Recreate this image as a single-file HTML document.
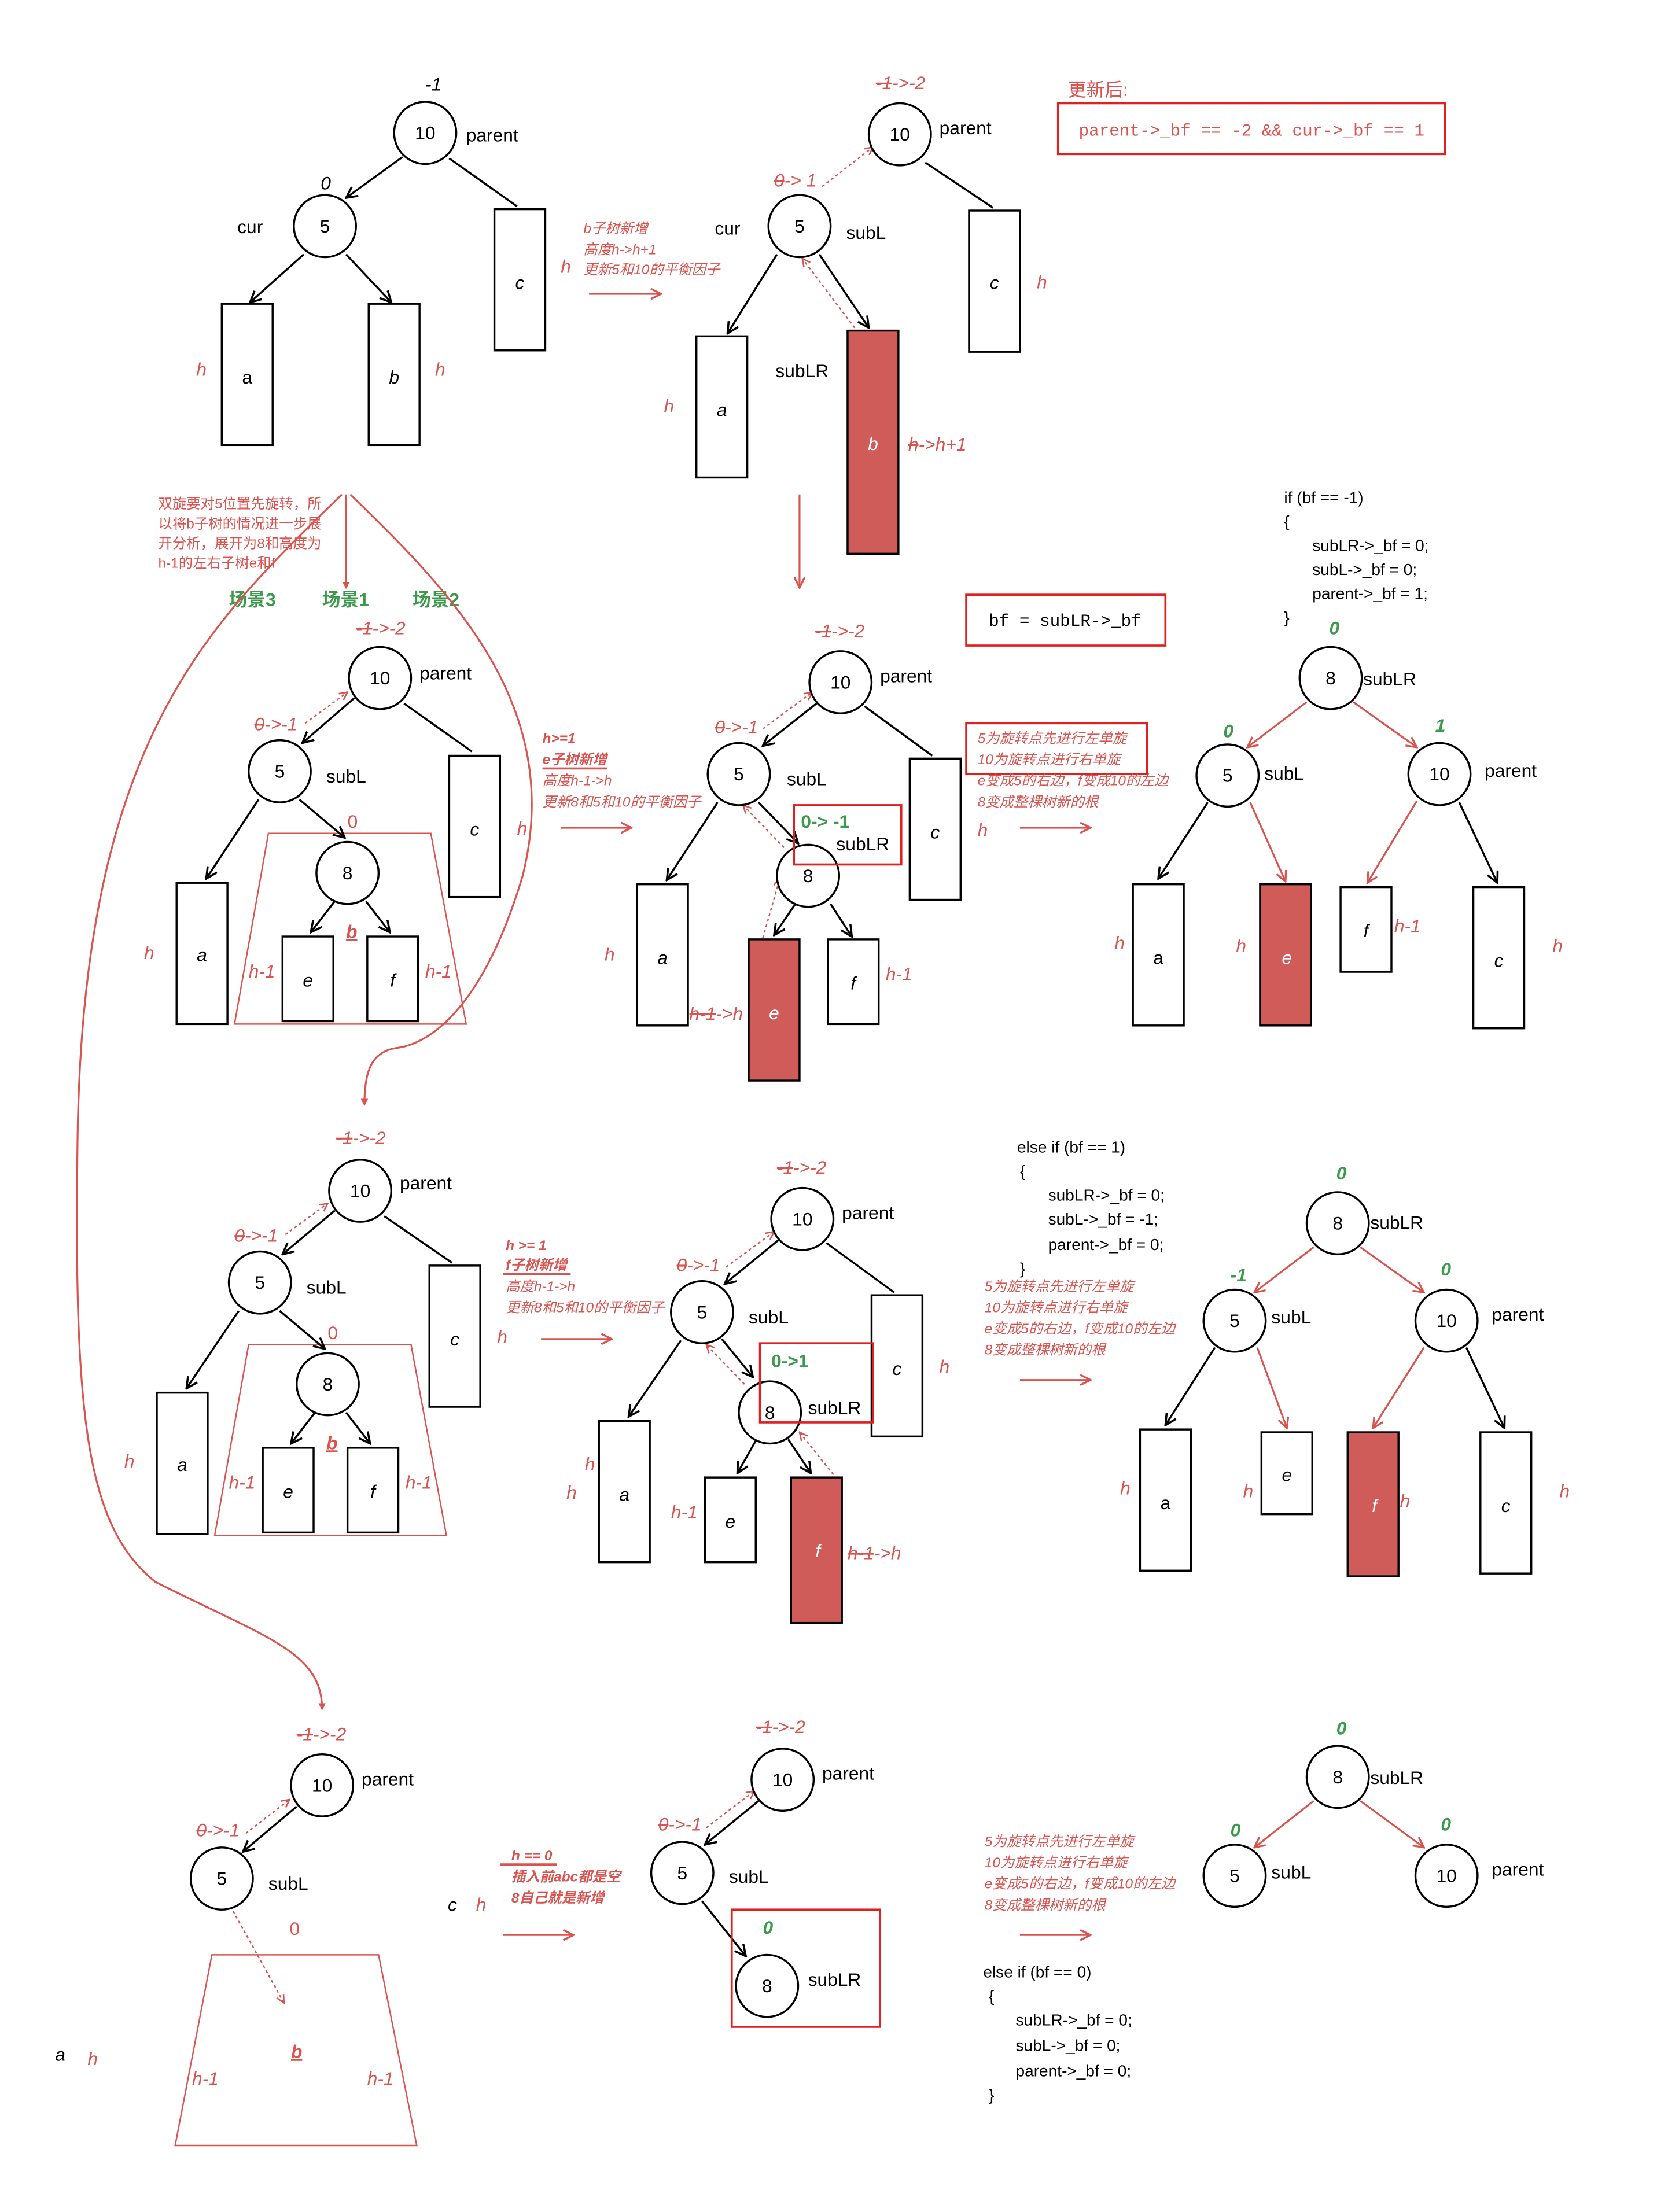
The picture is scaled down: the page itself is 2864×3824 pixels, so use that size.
<!DOCTYPE html>
<html><head><meta charset="utf-8"><style>
html,body{margin:0;padding:0;background:#fff}
svg{display:block}
text{font-family:"Liberation Sans","Noto Sans CJK SC",sans-serif}
.n{font-size:13px;text-anchor:middle;dominant-baseline:central}
.l{font-size:13px}
.r{fill:#d9534f}
.i{font-style:italic}
.g{fill:#3c9a4c;font-weight:bold;font-style:italic}
.s{font-size:10px;fill:#d9534f;font-style:italic}
.c{font-size:11.5px}
.m{font-family:"Liberation Mono",monospace;font-size:12px}
.ln{stroke:#000;stroke-width:1.4;fill:none}
.rl{stroke:#d9534f;stroke-width:1.3;fill:none}
.rd{stroke:#d9534f;stroke-width:1;fill:none;stroke-dasharray:2,2}
.bx{fill:#fff;stroke:#000;stroke-width:1.4}
.rb{fill:#d05c5a;stroke:#000;stroke-width:1.4}
.nd{fill:#fff;stroke:#000;stroke-width:1.4}
.st{text-decoration:line-through}
</style></head><body>
<svg width="2864" height="3824" viewBox="0 0 1173 1566" xmlns="http://www.w3.org/2000/svg">
<defs>
<marker id="a" viewBox="0 0 10 10" refX="9" refY="5" markerWidth="7" markerHeight="7" orient="auto"><path d="M1 1L9 5L1 9" fill="none" stroke="#000" stroke-width="1.5"/></marker>
<marker id="ar" viewBox="0 0 10 10" refX="9" refY="5" markerWidth="7" markerHeight="7" orient="auto"><path d="M1 1L9 5L1 9" fill="none" stroke="#d9534f" stroke-width="1.5"/></marker>
<marker id="ab" viewBox="0 0 10 10" refX="8" refY="5" markerWidth="4" markerHeight="4" orient="auto"><path d="M0 0L10 5L0 10z" fill="#d9534f"/></marker>
</defs>

<!-- Diagram 1 -->
<text x="301" y="64" class="l i">-1</text>
<line class="ln" x1="285" y1="111" x2="245" y2="140" marker-end="url(#a)"/>
<line class="ln" x1="318" y1="112" x2="366" y2="146"/>
<line class="ln" x1="215" y1="180" x2="177" y2="214" marker-end="url(#a)"/>
<line class="ln" x1="245" y1="180" x2="277" y2="214" marker-end="url(#a)"/>
<circle class="nd" cx="301" cy="94" r="22"/><text class="n" x="301" y="94">10</text>
<text x="330" y="100" class="l">parent</text>
<text x="227" y="134" class="l i">0</text>
<circle class="nd" cx="230" cy="160" r="22"/><text class="n" x="230" y="160">5</text>
<text x="168" y="165" class="l">cur</text>
<rect class="bx" x="350" y="148" width="36" height="100"/><text class="n i" x="368" y="200">c</text>
<text x="397" y="193" class="l r i">h</text>
<rect class="bx" x="157" y="215" width="36" height="100"/><text class="n" x="175" y="267">a</text>
<text x="139" y="266" class="l r i">h</text>
<rect class="bx" x="261" y="215" width="36" height="100"/><text class="n i" x="279" y="267">b</text>
<text x="308" y="266" class="l r i">h</text>
<line class="rl" x1="417" y1="208" x2="468" y2="208" stroke-width="2" marker-end="url(#ar)"/>
<text x="413" y="165" class="s">b子树新增</text>
<text x="413" y="180" class="s">高度h-&gt;h+1</text>
<text x="413" y="194" class="s">更新5和10的平衡因子</text>

<!-- Diagram 2 -->
<text x="620" y="63" class="l r i"><tspan class="st">-1</tspan>-&gt;-2</text>
<line class="ln" x1="655" y1="115" x2="703" y2="147"/>
<line class="ln" x1="550" y1="180" x2="515" y2="236" marker-end="url(#a)"/>
<line class="ln" x1="580" y1="180" x2="615" y2="232" marker-end="url(#a)"/>
<line class="rd" x1="582" y1="132" x2="618" y2="104" marker-end="url(#ar)"/>
<line class="rd" x1="605" y1="232" x2="568" y2="183" marker-end="url(#ar)"/>
<circle class="nd" cx="637" cy="95" r="22"/><text class="n" x="637" y="95">10</text>
<text x="665" y="95" class="l">parent</text>
<text x="548" y="132" class="l r i"><tspan class="st">0</tspan>-&gt; 1</text>
<circle class="nd" cx="566" cy="160" r="22"/><text class="n" x="566" y="160">5</text>
<text x="506" y="166" class="l">cur</text>
<text x="599" y="169" class="l">subL</text>
<rect class="bx" x="686" y="149" width="36" height="100"/><text class="n i" x="704" y="200">c</text>
<text x="734" y="204" class="l r i">h</text>
<rect class="bx" x="493" y="238" width="36" height="100"/><text class="n i" x="511" y="290">a</text>
<text x="470" y="292" class="l r i">h</text>
<rect class="rb" x="600" y="234" width="36" height="158"/><text class="n i" x="618" y="314" fill="#fff">b</text>
<text x="643" y="319" class="l r i"><tspan class="st">h</tspan>-&gt;h+1</text>
<text x="549" y="267" class="l">subLR</text>
<line class="rl" x1="566" y1="350" x2="566" y2="416" stroke-width="2" marker-end="url(#ar)"/>

<text x="756" y="68" class="l r">更新后:</text>
<rect x="749" y="73" width="274" height="36" fill="none" stroke="#e02020" stroke-width="1.5"/>
<text x="886" y="96" class="m r" text-anchor="middle">parent-&gt;_bf == -2 &amp;&amp; cur-&gt;_bf == 1</text>

<!-- left annotation -->
<text x="112" y="360" class="s" style="font-style:normal">双旋要对5位置先旋转，所</text>
<text x="112" y="374" class="s" style="font-style:normal">以将b子树的情况进一步展</text>
<text x="112" y="388" class="s" style="font-style:normal">开分析，展开为8和高度为</text>
<text x="112" y="402" class="s" style="font-style:normal">h-1的左右子树e和f</text>
<text x="162" y="429" class="l g" style="font-style:normal">场景3</text>
<text x="228" y="429" class="l g" style="font-style:normal">场景1</text>
<text x="292" y="429" class="l g" style="font-style:normal">场景2</text>
<line class="rl" x1="245" y1="350" x2="245" y2="416" stroke-width="2" marker-end="url(#ab)"/>
<path class="rl" stroke-width="2" d="M248 350 C 320 420, 400 500, 370 620 C 340 720, 300 740, 280 742 C 262 745, 258 760, 258 782" marker-end="url(#ab)"/>
<path class="rl" stroke-width="2" d="M242 350 C 150 440, 60 520, 55 800 C 52 1000, 60 1080, 110 1120 C 190 1160, 228 1170, 228 1210" marker-end="url(#ab)"/>

<!-- Diagram 3 scene1 -->
<text x="252" y="449" class="l r i"><tspan class="st">-1</tspan>-&gt;-2</text>
<polygon points="190,590 305,590 330,725 166,725" fill="none" stroke="#d9534f" stroke-width="1"/>
<line class="ln" x1="286" y1="498" x2="334" y2="532"/>
<line class="ln" x1="251" y1="494" x2="214" y2="526" marker-end="url(#a)"/>
<line class="ln" x1="183" y1="566" x2="146" y2="622" marker-end="url(#a)"/>
<line class="ln" x1="212" y1="566" x2="244" y2="593" marker-end="url(#a)"/>
<line class="ln" x1="237" y1="638" x2="220" y2="660" marker-end="url(#a)"/>
<line class="ln" x1="259" y1="638" x2="276" y2="660" marker-end="url(#a)"/>
<line class="rd" x1="216" y1="512" x2="246" y2="490" marker-end="url(#ar)"/>
<circle class="nd" cx="269" cy="480" r="22"/><text class="n" x="269" y="480">10</text>
<text x="297" y="481" class="l">parent</text>
<text x="180" y="517" class="l r i"><tspan class="st">0</tspan>-&gt;-1</text>
<circle class="nd" cx="198" cy="546" r="22"/><text class="n" x="198" y="546">5</text>
<text x="231" y="554" class="l">subL</text>
<rect class="bx" x="318" y="535" width="36" height="100"/><text class="n i" x="336" y="587">c</text>
<text x="366" y="591" class="l r i">h</text>
<rect class="bx" x="125" y="625" width="36" height="100"/><text class="n i" x="143" y="676">a</text>
<text x="102" y="679" class="l r i">h</text>
<text x="246" y="586" class="l r">0</text>
<circle class="nd" cx="246" cy="618" r="22"/><text class="n" x="246" y="618">8</text>
<rect class="bx" x="200" y="663" width="36" height="60"/><text class="n i" x="218" y="694">e</text>
<rect class="bx" x="260" y="663" width="36" height="60"/><text class="n i" x="278" y="694">f</text>
<text x="245" y="664" class="l r i" style="font-weight:bold;text-decoration:underline">b</text>
<text x="176" y="692" class="l r i">h-1</text>
<text x="301" y="692" class="l r i">h-1</text>
<line class="rl" x1="397" y1="586" x2="447" y2="586" stroke-width="2" marker-end="url(#ar)"/>
<text x="384" y="526" class="s g">h&gt;=1</text>
<text x="384" y="541" class="s g">e子树新增</text>
<line x1="384" y1="544" x2="430" y2="544" stroke="#d9534f" stroke-width="1.5"/>
<text x="384" y="556" class="s">高度h-1-&gt;h</text>
<text x="384" y="571" class="s">更新8和5和10的平衡因子</text>

<!-- Diagram 4 -->
<text x="577" y="451" class="l r i"><tspan class="st">-1</tspan>-&gt;-2</text>
<line class="ln" x1="612" y1="500" x2="660" y2="535"/>
<line class="ln" x1="578" y1="498" x2="540" y2="528" marker-end="url(#a)"/>
<line class="ln" x1="508" y1="568" x2="472" y2="623" marker-end="url(#a)"/>
<line class="ln" x1="537" y1="568" x2="565" y2="597" marker-end="url(#a)"/>
<line class="ln" x1="563" y1="640" x2="548" y2="662" marker-end="url(#a)"/>
<line class="ln" x1="588" y1="640" x2="603" y2="663" marker-end="url(#a)"/>
<line class="rd" x1="540" y1="516" x2="575" y2="490" marker-end="url(#ar)"/>
<line class="rd" x1="555" y1="600" x2="526" y2="570" marker-end="url(#ar)"/>
<line class="rd" x1="540" y1="664" x2="552" y2="622" marker-end="url(#ar)"/>
<circle class="nd" cx="595" cy="483" r="22"/><text class="n" x="595" y="483">10</text>
<text x="623" y="483" class="l">parent</text>
<text x="506" y="519" class="l r i"><tspan class="st">0</tspan>-&gt;-1</text>
<circle class="nd" cx="523" cy="548" r="22"/><text class="n" x="523" y="548">5</text>
<text x="557" y="556" class="l">subL</text>
<rect class="bx" x="644" y="537" width="36" height="100"/><text class="n i" x="662" y="589">c</text>
<text x="692" y="592" class="l r i">h</text>
<rect class="bx" x="451" y="626" width="36" height="100"/><text class="n i" x="469" y="678">a</text>
<text x="428" y="680" class="l r i">h</text>
<circle class="nd" cx="572" cy="620" r="22"/><text class="n" x="572" y="620">8</text>
<rect x="562" y="570" width="76" height="42" fill="none" stroke="#e02020" stroke-width="1.5"/>
<text x="567" y="586" class="l g" style="font-style:normal">0-&gt; -1</text>
<text x="592" y="602" class="l">subLR</text>
<rect class="rb" x="530" y="665" width="36" height="100"/><text class="n i" x="548" y="717" fill="#fff">e</text>
<text x="488" y="722" class="l r i"><tspan class="st">h-1</tspan>-&gt;h</text>
<rect class="bx" x="586" y="665" width="36" height="60"/><text class="n i" x="604" y="696">f</text>
<text x="627" y="694" class="l r i">h-1</text>
<line class="rl" x1="722" y1="586" x2="772" y2="586" stroke-width="2" marker-end="url(#ar)"/>
<rect x="684" y="512" width="128" height="36" fill="none" stroke="#e02020" stroke-width="1.5"/>
<text x="692" y="526" class="s">5为旋转点先进行左单旋</text>
<text x="692" y="541" class="s">10为旋转点进行右单旋</text>
<text x="692" y="556" class="s">e变成5的右边，f变成10的左边</text>
<text x="692" y="571" class="s">8变成整棵树新的根</text>
<rect x="684" y="421" width="141" height="36" fill="none" stroke="#e02020" stroke-width="1.5"/>
<text x="754" y="443" class="m" text-anchor="middle">bf = subLR-&gt;_bf</text>

<!-- code 1 -->
<text x="909" y="356" class="c">if (bf == -1)</text>
<text x="909" y="373" class="c">{</text>
<text x="929" y="390" class="c">subLR-&gt;_bf = 0;</text>
<text x="929" y="407" class="c">subL-&gt;_bf = 0;</text>
<text x="929" y="424" class="c">parent-&gt;_bf = 1;</text>
<text x="909" y="441" class="c">}</text>

<!-- Diagram 5 -->
<line class="rl" x1="925" y1="497" x2="883" y2="529" marker-end="url(#ar)"/>
<line class="rl" x1="958" y1="497" x2="1003" y2="529" marker-end="url(#ar)"/>
<line class="ln" x1="855" y1="568" x2="820" y2="622" marker-end="url(#a)"/>
<line class="rl" x1="885" y1="568" x2="910" y2="624" marker-end="url(#ar)"/>
<line class="rl" x1="1003" y1="567" x2="968" y2="625" marker-end="url(#ar)"/>
<line class="ln" x1="1033" y1="568" x2="1060" y2="625" marker-end="url(#a)"/>
<text x="941" y="449" class="l g">0</text>
<circle class="nd" cx="942" cy="480" r="22"/><text class="n" x="942" y="480">8</text>
<text x="965" y="485" class="l">subLR</text>
<text x="866" y="522" class="l g">0</text>
<text x="1016" y="518" class="l g">1</text>
<circle class="nd" cx="869" cy="549" r="22"/><text class="n" x="869" y="549">5</text>
<text x="895" y="552" class="l">subL</text>
<circle class="nd" cx="1019" cy="548" r="22"/><text class="n" x="1019" y="548">10</text>
<text x="1051" y="550" class="l">parent</text>
<rect class="bx" x="802" y="626" width="36" height="100"/><text class="n" x="820" y="678">a</text>
<text x="789" y="672" class="l r i">h</text>
<rect class="rb" x="892" y="626" width="36" height="100"/><text class="n i" x="911" y="678" fill="#fff">e</text>
<text x="875" y="674" class="l r i">h</text>
<rect class="bx" x="949" y="628" width="36" height="60"/><text class="n i" x="967" y="659">f</text>
<text x="987" y="660" class="l r i">h-1</text>
<rect class="bx" x="1043" y="628" width="36" height="100"/><text class="n i" x="1061" y="680">c</text>
<text x="1099" y="674" class="l r i">h</text>

<!-- Scene 2 -->
<text x="238" y="810" class="l r i"><tspan class="st">-1</tspan>-&gt;-2</text>
<polygon points="176,952 291,952 316,1087 152,1087" fill="none" stroke="#d9534f" stroke-width="1"/>
<line class="ln" x1="272" y1="861" x2="320" y2="894"/>
<line class="ln" x1="237" y1="857" x2="200" y2="888" marker-end="url(#a)"/>
<line class="ln" x1="169" y1="928" x2="132" y2="983" marker-end="url(#a)"/>
<line class="ln" x1="198" y1="928" x2="230" y2="955" marker-end="url(#a)"/>
<line class="ln" x1="223" y1="1000" x2="206" y2="1022" marker-end="url(#a)"/>
<line class="ln" x1="245" y1="1000" x2="262" y2="1022" marker-end="url(#a)"/>
<line class="rd" x1="202" y1="874" x2="232" y2="852" marker-end="url(#ar)"/>
<circle class="nd" cx="255" cy="843" r="22"/><text class="n" x="255" y="843">10</text>
<text x="283" y="842" class="l">parent</text>
<text x="166" y="879" class="l r i"><tspan class="st">0</tspan>-&gt;-1</text>
<circle class="nd" cx="184" cy="908" r="22"/><text class="n" x="184" y="908">5</text>
<text x="217" y="916" class="l">subL</text>
<rect class="bx" x="304" y="896" width="36" height="100"/><text class="n i" x="322" y="948">c</text>
<text x="352" y="951" class="l r i">h</text>
<rect class="bx" x="111" y="986" width="36" height="100"/><text class="n i" x="129" y="1037">a</text>
<text x="88" y="1039" class="l r i">h</text>
<text x="232" y="948" class="l r">0</text>
<circle class="nd" cx="232" cy="980" r="22"/><text class="n" x="232" y="980">8</text>
<rect class="bx" x="186" y="1025" width="36" height="60"/><text class="n i" x="204" y="1056">e</text>
<rect class="bx" x="246" y="1025" width="36" height="60"/><text class="n i" x="264" y="1056">f</text>
<text x="231" y="1026" class="l r i" style="font-weight:bold;text-decoration:underline">b</text>
<text x="162" y="1054" class="l r i">h-1</text>
<text x="287" y="1054" class="l r i">h-1</text>
<line class="rl" x1="383" y1="948" x2="433" y2="948" stroke-width="2" marker-end="url(#ar)"/>
<text x="358" y="885" class="s g">h &gt;= 1</text>
<text x="358" y="899" class="s g">f子树新增</text>
<line x1="356" y1="902" x2="404" y2="902" stroke="#d9534f" stroke-width="1.5"/>
<text x="358" y="914" class="s">高度h-1-&gt;h</text>
<text x="358" y="929" class="s">更新8和5和10的平衡因子</text>

<!-- Diagram 6 -->
<text x="550" y="831" class="l r i"><tspan class="st">-1</tspan>-&gt;-2</text>
<line class="ln" x1="585" y1="880" x2="633" y2="915"/>
<line class="ln" x1="551" y1="878" x2="513" y2="909" marker-end="url(#a)"/>
<line class="ln" x1="482" y1="949" x2="445" y2="1003" marker-end="url(#a)"/>
<line class="ln" x1="511" y1="948" x2="533" y2="975" marker-end="url(#a)"/>
<line class="ln" x1="535" y1="1020" x2="522" y2="1043" marker-end="url(#a)"/>
<line class="ln" x1="558" y1="1019" x2="574" y2="1043" marker-end="url(#a)"/>
<line class="rd" x1="514" y1="897" x2="548" y2="872" marker-end="url(#ar)"/>
<line class="rd" x1="527" y1="980" x2="500" y2="952" marker-end="url(#ar)"/>
<line class="rd" x1="590" y1="1044" x2="566" y2="1014" marker-end="url(#ar)"/>
<circle class="nd" cx="568" cy="863" r="22"/><text class="n" x="568" y="863">10</text>
<text x="596" y="863" class="l">parent</text>
<text x="479" y="900" class="l r i"><tspan class="st">0</tspan>-&gt;-1</text>
<circle class="nd" cx="497" cy="929" r="22"/><text class="n" x="497" y="929">5</text>
<text x="530" y="937" class="l">subL</text>
<rect class="bx" x="617" y="917" width="36" height="100"/><text class="n i" x="635" y="969">c</text>
<text x="665" y="972" class="l r i">h</text>
<rect class="bx" x="424" y="1006" width="36" height="100"/><text class="n i" x="442" y="1058">a</text>
<text x="414" y="1041" class="l r i">h</text>
<text x="401" y="1061" class="l r i">h</text>
<circle class="nd" cx="545" cy="1000" r="22"/><text class="n" x="545" y="1000">8</text>
<rect x="538" y="951" width="80" height="56" fill="none" stroke="#e02020" stroke-width="1.5"/>
<text x="546" y="968" class="l g" style="font-style:normal">0-&gt;1</text>
<text x="572" y="1001" class="l">subLR</text>
<rect class="bx" x="499" y="1046" width="36" height="60"/><text class="n i" x="517" y="1077">e</text>
<text x="475" y="1075" class="l r i">h-1</text>
<rect class="rb" x="560" y="1046" width="36" height="103"/><text class="n i" x="579" y="1098" fill="#fff">f</text>
<text x="600" y="1104" class="l r i"><tspan class="st">h-1</tspan>-&gt;h</text>
<text x="720" y="816" class="c">else if (bf == 1)</text>
<text x="722" y="833" class="c">{</text>
<text x="742" y="850" class="c">subLR-&gt;_bf = 0;</text>
<text x="742" y="867" class="c">subL-&gt;_bf = -1;</text>
<text x="742" y="885" class="c">parent-&gt;_bf = 0;</text>
<text x="722" y="902" class="c">}</text>
<text x="697" y="914" class="s">5为旋转点先进行左单旋</text>
<text x="697" y="929" class="s">10为旋转点进行右单旋</text>
<text x="697" y="944" class="s">e变成5的右边，f变成10的左边</text>
<text x="697" y="959" class="s">8变成整棵树新的根</text>
<line class="rl" x1="722" y1="977" x2="772" y2="977" stroke-width="2" marker-end="url(#ar)"/>

<!-- Diagram 7 -->
<line class="rl" x1="930" y1="883" x2="888" y2="915" marker-end="url(#ar)"/>
<line class="rl" x1="963" y1="883" x2="1008" y2="915" marker-end="url(#ar)"/>
<line class="ln" x1="860" y1="954" x2="825" y2="1009" marker-end="url(#a)"/>
<line class="rl" x1="890" y1="954" x2="911" y2="1011" marker-end="url(#ar)"/>
<line class="rl" x1="1008" y1="954" x2="972" y2="1011" marker-end="url(#ar)"/>
<line class="ln" x1="1038" y1="954" x2="1065" y2="1011" marker-end="url(#a)"/>
<text x="946" y="835" class="l g">0</text>
<circle class="nd" cx="947" cy="866" r="22"/><text class="n" x="947" y="866">8</text>
<text x="970" y="870" class="l">subLR</text>
<text x="871" y="907" class="l g">-1</text>
<text x="1020" y="903" class="l g">0</text>
<circle class="nd" cx="874" cy="935" r="22"/><text class="n" x="874" y="935">5</text>
<text x="900" y="937" class="l">subL</text>
<circle class="nd" cx="1024" cy="935" r="22"/><text class="n" x="1024" y="935">10</text>
<text x="1056" y="935" class="l">parent</text>
<rect class="bx" x="807" y="1012" width="36" height="100"/><text class="n" x="825" y="1064">a</text>
<text x="793" y="1058" class="l r i">h</text>
<rect class="bx" x="893" y="1014" width="36" height="58"/><text class="n i" x="911" y="1044">e</text>
<text x="880" y="1060" class="l r i">h</text>
<rect class="rb" x="954" y="1014" width="36" height="102"/><text class="n i" x="973" y="1066" fill="#fff">f</text>
<text x="991" y="1067" class="l r i">h</text>
<rect class="bx" x="1048" y="1014" width="36" height="100"/><text class="n i" x="1066" y="1066">c</text>
<text x="1104" y="1060" class="l r i">h</text>

<!-- Scene 3 -->
<text x="210" y="1232" class="l r i"><tspan class="st">-1</tspan>-&gt;-2</text>
<polygon points="150,1384 268,1384 295,1519 124,1519" fill="none" stroke="#d9534f" stroke-width="1"/>
<line class="ln" x1="210" y1="1279" x2="172" y2="1311" marker-end="url(#a)"/>
<line class="rd" x1="165" y1="1353" x2="201" y2="1418" marker-end="url(#ar)"/>
<line class="rd" x1="174" y1="1298" x2="205" y2="1274" marker-end="url(#ar)"/>
<circle class="nd" cx="228" cy="1264" r="22"/><text class="n" x="228" y="1264">10</text>
<text x="256" y="1264" class="l">parent</text>
<text x="139" y="1300" class="l r i"><tspan class="st">0</tspan>-&gt;-1</text>
<circle class="nd" cx="157" cy="1330" r="22"/><text class="n" x="157" y="1330">5</text>
<text x="190" y="1338" class="l">subL</text>
<text x="205" y="1370" class="l r">0</text>
<text x="206" y="1457" class="l r i" style="font-weight:bold;text-decoration:underline">b</text>
<text x="136" y="1476" class="l r i">h-1</text>
<text x="260" y="1476" class="l r i">h-1</text>
<text x="39" y="1459" class="l i">a</text>
<text x="62" y="1462" class="l r i">h</text>
<text x="317" y="1353" class="l i">c</text>
<text x="337" y="1353" class="l r i">h</text>
<line class="rl" x1="356" y1="1370" x2="406" y2="1370" stroke-width="2" marker-end="url(#ar)"/>
<text x="362" y="1317" class="s g">h == 0</text>
<line x1="354" y1="1320" x2="394" y2="1320" stroke="#d9534f" stroke-width="1.5"/>
<text x="362" y="1332" class="s g">插入前abc都是空</text>
<text x="362" y="1347" class="s g">8自己就是新增</text>

<!-- Diagram 8 -->
<text x="535" y="1227" class="l r i"><tspan class="st">-1</tspan>-&gt;-2</text>
<line class="ln" x1="537" y1="1275" x2="499" y2="1306" marker-end="url(#a)"/>
<line class="ln" x1="497" y1="1346" x2="528" y2="1385" marker-end="url(#a)"/>
<line class="rd" x1="500" y1="1294" x2="534" y2="1268" marker-end="url(#ar)"/>
<circle class="nd" cx="554" cy="1260" r="22"/><text class="n" x="554" y="1260">10</text>
<text x="582" y="1260" class="l">parent</text>
<text x="466" y="1296" class="l r i"><tspan class="st">0</tspan>-&gt;-1</text>
<circle class="nd" cx="483" cy="1326" r="22"/><text class="n" x="483" y="1326">5</text>
<text x="516" y="1333" class="l">subL</text>
<rect x="518" y="1352" width="105" height="83" fill="none" stroke="#e02020" stroke-width="1.5"/>
<text x="540" y="1369" class="l g">0</text>
<circle class="nd" cx="543" cy="1406" r="22"/><text class="n" x="543" y="1406">8</text>
<text x="572" y="1406" class="l">subLR</text>
<text x="697" y="1307" class="s">5为旋转点先进行左单旋</text>
<text x="697" y="1322" class="s">10为旋转点进行右单旋</text>
<text x="697" y="1337" class="s">e变成5的右边，f变成10的左边</text>
<text x="697" y="1352" class="s">8变成整棵树新的根</text>
<line class="rl" x1="722" y1="1370" x2="772" y2="1370" stroke-width="2" marker-end="url(#ar)"/>
<text x="696" y="1400" class="c">else if (bf == 0)</text>
<text x="700" y="1417" class="c">{</text>
<text x="719" y="1434" class="c">subLR-&gt;_bf = 0;</text>
<text x="719" y="1452" class="c">subL-&gt;_bf = 0;</text>
<text x="719" y="1470" class="c">parent-&gt;_bf = 0;</text>
<text x="700" y="1487" class="c">}</text>

<!-- Diagram 9 -->
<line class="rl" x1="930" y1="1275" x2="888" y2="1308" marker-end="url(#ar)"/>
<line class="rl" x1="963" y1="1275" x2="1008" y2="1308" marker-end="url(#ar)"/>
<text x="946" y="1228" class="l g">0</text>
<circle class="nd" cx="947" cy="1258" r="22"/><text class="n" x="947" y="1258">8</text>
<text x="970" y="1263" class="l">subLR</text>
<text x="871" y="1300" class="l g">0</text>
<text x="1020" y="1296" class="l g">0</text>
<circle class="nd" cx="874" cy="1328" r="22"/><text class="n" x="874" y="1328">5</text>
<text x="900" y="1330" class="l">subL</text>
<circle class="nd" cx="1024" cy="1328" r="22"/><text class="n" x="1024" y="1328">10</text>
<text x="1056" y="1328" class="l">parent</text>
</svg>
</body></html>
